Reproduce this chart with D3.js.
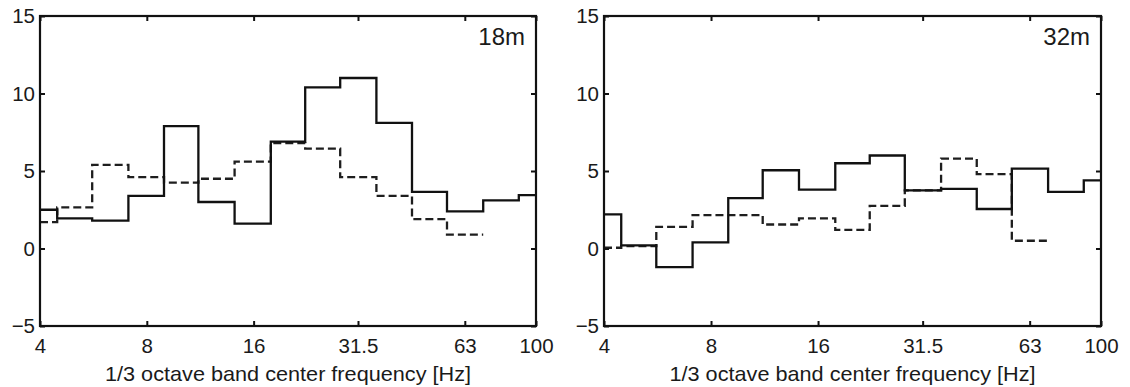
<!DOCTYPE html>
<html>
<head>
<meta charset="utf-8">
<script src="https://cdn.jsdelivr.net/npm/d3@7/dist/d3.min.js"></script>
<style>
  html, body { margin: 0; padding: 0; background: #fff; }
  svg text { font-family: "Liberation Sans", Arial, Helvetica, sans-serif; fill: #1a1a1a; }
</style>
</head>
<body>
<svg id="chart" width="1130" height="387"></svg>
<script>
// 1/3 octave band centre frequencies (Hz)
const bands = [4, 5, 6.3, 8, 10, 12.5, 16, 20, 25, 31.5, 40, 50, 63, 80, 100];
const xTicks = [4, 8, 16, 31.5, 63, 100];
const yTicks = [-5, 0, 5, 10, 15];

// 18 m position: band levels (solid and dashed traces)
const solid18  = [2.5, 1.95, 1.8, 3.4, 7.9, 3.0, 1.6, 6.9, 10.4, 11.0, 8.1, 3.65, 2.4, 3.1, 3.45];
const dashed18 = [1.7, 2.65, 5.4, 4.6, 4.25, 4.5, 5.6, 6.8, 6.45, 4.6, 3.4, 1.9, 0.9];

// 32 m position
const solid32  = [2.2, 0.2, -1.2, 0.4, 3.25, 5.05, 3.8, 5.5, 6.0, 3.75, 3.85, 2.55, 5.15, 3.65, 4.4];
const dashed32 = [0.05, 0.15, 1.4, 2.15, 2.15, 1.55, 1.95, 1.2, 2.75, 3.75, 5.8, 4.8, 0.5];

const panels = [
  { title: "18m", x0: 40,  x1: 536,  solid: solid18, dashed: dashed18 },
  { title: "32m", x0: 604, x1: 1101, solid: solid32, dashed: dashed32 }
];

const yTop = 16, yBottom = 326;
const svg = d3.select("#chart");
const tickLen = 5;

// Band edges: geometric mean of neighbouring centres, clipped to the axis range
function bandEdges(n) {
  const e = [bands[0]];
  for (let i = 1; i < n; i++) e.push(Math.sqrt(bands[i - 1] * bands[i]));
  e.push(n < bands.length ? Math.sqrt(bands[n - 1] * bands[n]) : bands[bands.length - 1]);
  return e;
}

panels.forEach(p => {
  const x = d3.scaleLog().domain([4, 100]).range([p.x0, p.x1]);
  const y = d3.scaleLinear().domain([-5, 15]).range([yBottom, yTop]);
  const g = svg.append("g");

  // step traces
  const stepLine = d3.line()
    .x(d => x(d[0]))
    .y(d => y(d[1]))
    .curve(d3.curveStepAfter);

  function stepPoints(vals) {
    const e = bandEdges(vals.length);
    const pts = vals.map((v, i) => [e[i], v]);
    pts.push([e[vals.length], vals[vals.length - 1]]);
    return pts;
  }

  g.append("path")
    .attr("d", stepLine(stepPoints(p.dashed)))
    .attr("fill", "none")
    .attr("stroke", "#1e1e1e")
    .attr("stroke-width", 2.3)
    .attr("stroke-dasharray", "8,4");

  g.append("path")
    .attr("d", stepLine(stepPoints(p.solid)))
    .attr("fill", "none")
    .attr("stroke", "#111")
    .attr("stroke-width", 2.3);

  // axes (ticks point inward, mirrored on top and right)
  const fmtX = d => String(d);
  const bottom = g.append("g").attr("transform", `translate(0,${yBottom})`)
    .call(d3.axisBottom(x).tickValues(xTicks).tickFormat(fmtX).tickSize(-tickLen).tickPadding(10));
  const top = g.append("g").attr("transform", `translate(0,${yTop})`)
    .call(d3.axisTop(x).tickValues(xTicks).tickFormat("").tickSize(-tickLen));
  const left = g.append("g").attr("transform", `translate(${p.x0},0)`)
    .call(d3.axisLeft(y).tickValues(yTicks).tickFormat(d3.format("d")).tickSize(-tickLen).tickPadding(6));
  const right = g.append("g").attr("transform", `translate(${p.x1},0)`)
    .call(d3.axisRight(y).tickValues(yTicks).tickFormat("").tickSize(-tickLen));

  [bottom, top, left, right].forEach(a => {
    a.select(".domain").remove();
    a.selectAll(".tick line").attr("stroke", "#111").attr("stroke-width", 2);
    a.selectAll(".tick text").attr("font-size", 20.5).style("fill", "#1a1a1a");
  });
  bottom.selectAll(".tick text").attr("dy", "0.85em");
  left.selectAll(".tick text").attr("dx", "1px");

  // frame
  g.append("rect")
    .attr("x", p.x0).attr("y", yTop)
    .attr("width", p.x1 - p.x0).attr("height", yBottom - yTop)
    .attr("fill", "none").attr("stroke", "#111").attr("stroke-width", 2.2);

  // panel label
  g.append("text")
    .attr("x", p.x1 - 11).attr("y", 45)
    .attr("text-anchor", "end")
    .attr("font-size", 24)
    .text(p.title);

  // x-axis title
  g.append("text")
    .attr("x", (p.x0 + p.x1) / 2).attr("y", 381)
    .attr("text-anchor", "middle")
    .attr("font-size", 21)
    .attr("textLength", 366)
    .attr("lengthAdjust", "spacingAndGlyphs")
    .text("1/3 octave band center frequency [Hz]");
});
</script>
</body>
</html>
